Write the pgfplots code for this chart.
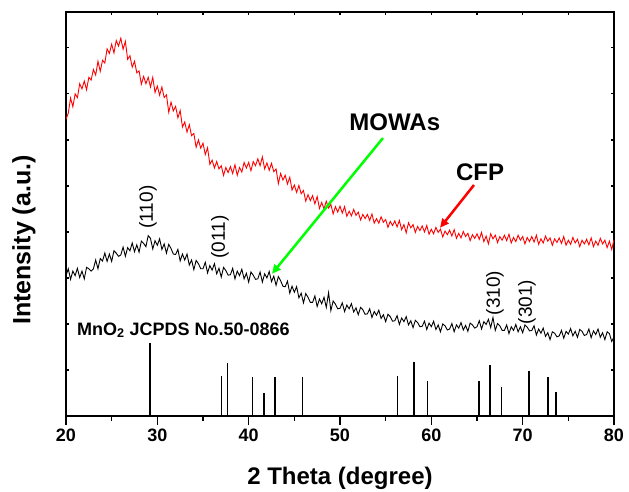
\documentclass[border=0pt]{standalone}
\usepackage{fontspec}
\setmainfont{Liberation Sans}
\usepackage{pgfplots}
\pgfplotsset{compat=1.18}
\usetikzlibrary{arrows.meta}

\newcommand{\fs}[1]{\fontsize{#1bp}{#1bp}\selectfont}

\begin{document}
\begin{tikzpicture}
\useasboundingbox (0,0) rectangle (629bp,492bp);

% top and side ticks (small, inside)
\begin{axis}[
  at={(66bp,76bp)}, anchor=south west,
  width=548bp, height=404bp, scale only axis,
  xmin=20, xmax=80, ymin=0, ymax=8.78,
  xtick={20,25,...,80}, ytick={1,...,8},
  xtick pos=right, ytick pos=both,
  tick align=inside, major tick length=3bp,
  xticklabels={}, yticklabels={}, axis line style={line width=1.8bp},
  tick style={line width=1.2bp, black},
]
\end{axis}

\begin{axis}[
  at={(66bp,76bp)}, anchor=south west,
  width=548bp, height=404bp, scale only axis,
  xmin=20, xmax=80, ymin=0, ymax=8.78,
  xtick={20,30,...,80}, minor xtick={25,35,...,75},
  xticklabels={20,30,40,50,60,70,80},
  ytick=\empty,
  xtick pos=left, tick align=outside,
  major tick length=9bp, minor tick length=5bp,
  tick style={line width=1.2bp, black},
  axis line style={line width=1.8bp},
  tick label style={font=\fs{18}\bfseries},
  clip=false,
]
% CFP
\addplot[red, line width=0.9bp] coordinates {
(20,6.45)(20.25,6.58)(20.5,6.91)(20.75,6.72)(21,7.00)(21.25,6.92)(21.5,7.22)(21.75,7.11)(22,7.28)(22.25,7.09)(22.5,7.36)(22.75,7.30)
(23,7.53)(23.25,7.41)(23.5,7.71)(23.75,7.49)(24,7.73)(24.25,7.67)(24.5,7.98)(24.75,7.88)(25,8.08)(25.25,7.89)(25.5,8.16)(25.75,8.04)
(26,8.21)(26.25,7.97)(26.5,8.14)(26.75,7.75)(27,7.83)(27.25,7.58)(27.5,7.71)(27.75,7.46)(28,7.50)(28.25,7.21)(28.5,7.38)(28.75,7.22)
(29,7.36)(29.25,7.15)(29.5,7.36)(29.75,7.03)(30,7.17)(30.25,6.97)(30.5,7.15)(30.75,6.92)(31,6.98)(31.25,6.60)(31.5,6.82)(31.75,6.63)
(32,6.73)(32.25,6.48)(32.5,6.64)(32.75,6.28)(33,6.39)(33.25,6.17)(33.5,6.33)(33.75,6.09)(34,6.14)(34.25,5.84)(34.5,6.00)(34.75,5.82)
(35,5.93)(35.25,5.68)(35.5,5.83)(35.75,5.47)(36,5.56)(36.25,5.39)(36.5,5.53)(36.75,5.37)(37,5.44)(37.25,5.23)(37.5,5.40)(37.75,5.29)
(38,5.42)(38.25,5.27)(38.5,5.46)(38.75,5.23)(39,5.40)(39.25,5.30)(39.5,5.51)(39.75,5.39)(40,5.51)(40.25,5.33)(40.5,5.53)(40.75,5.44)
(41,5.59)(41.25,5.44)(41.5,5.63)(41.75,5.37)(42,5.50)(42.25,5.34)(42.5,5.49)(42.75,5.31)(43,5.37)(43.25,5.05)(43.5,5.27)(43.75,5.13)
(44,5.23)(44.25,5.04)(44.5,5.19)(44.75,4.91)(45,5.02)(45.25,4.86)(45.5,5.01)(45.75,4.83)(46,4.90)(46.25,4.67)(46.5,4.81)(46.75,4.68)
(47,4.79)(47.25,4.61)(47.5,4.77)(47.75,4.51)(48,4.64)(48.25,4.50)(48.5,4.67)(48.75,4.52)(49,4.60)(49.25,4.39)(49.5,4.55)(49.75,4.43)
(50,4.56)(50.25,4.41)(50.5,4.55)(50.75,4.34)(51,4.45)(51.25,4.35)(51.5,4.49)(51.75,4.36)(52,4.43)(52.25,4.26)(52.5,4.38)(52.75,4.29)
(53,4.38)(53.25,4.25)(53.5,4.39)(53.75,4.19)(54,4.29)(54.25,4.19)(54.5,4.33)(54.75,4.21)(55,4.27)(55.25,4.10)(55.5,4.23)(55.75,4.14)
(56,4.24)(56.25,4.11)(56.5,4.25)(56.75,4.05)(57,4.16)(57.25,3.98)(57.5,4.20)(57.75,4.09)(58,4.16)(58.25,3.99)(58.5,4.12)(58.75,4.03)
(59,4.13)(59.25,4.00)(59.5,4.14)(59.75,3.95)(60,4.06)(60.25,3.96)(60.5,4.10)(60.75,3.99)(61,4.06)(61.25,3.89)(61.5,4.02)(61.75,3.94)
(62,4.04)(62.25,3.91)(62.5,4.05)(62.75,3.86)(63,3.97)(63.25,3.87)(63.5,4.01)(63.75,3.90)(64,3.97)(64.25,3.81)(64.5,3.94)(64.75,3.86)
(65,3.96)(65.25,3.84)(65.5,3.99)(65.75,3.79)(66,3.91)(66.25,3.74)(66.5,3.96)(66.75,3.85)(67,3.93)(67.25,3.77)(67.5,3.90)(67.75,3.82)
(68,3.93)(68.25,3.81)(68.5,3.95)(68.75,3.76)(69,3.88)(69.25,3.79)(69.5,3.93)(69.75,3.82)(70,3.90)(70.25,3.74)(70.5,3.88)(70.75,3.79)
(71,3.90)(71.25,3.78)(71.5,3.93)(71.75,3.73)(72,3.85)(72.25,3.76)(72.5,3.91)(72.75,3.80)(73,3.87)(73.25,3.71)(73.5,3.85)(73.75,3.77)
(74,3.87)(74.25,3.75)(74.5,3.90)(74.75,3.71)(75,3.82)(75.25,3.73)(75.5,3.88)(75.75,3.76)(76,3.84)(76.25,3.68)(76.5,3.82)(76.75,3.74)
(77,3.84)(77.25,3.72)(77.5,3.87)(77.75,3.68)(78,3.80)(78.25,3.71)(78.5,3.86)(78.75,3.74)(79,3.82)(79.25,3.66)(79.5,3.80)(79.75,3.62)
(80,3.83)};
% MOWAs
\addplot[black, line width=0.9bp] coordinates {
(20,3.05)(20.25,3.20)(20.5,2.97)(20.75,3.15)(21,3.05)(21.25,3.21)(21.5,3.01)(21.75,3.15)(22,2.98)(22.25,3.23)(22.5,3.20)(22.75,3.15)
(23,3.20)(23.25,3.39)(23.5,3.20)(23.75,3.42)(24,3.37)(24.25,3.54)(24.5,3.36)(24.75,3.52)(25,3.36)(25.25,3.59)(25.5,3.54)(25.75,3.47)
(26,3.50)(26.25,3.67)(26.5,3.47)(26.75,3.66)(27,3.59)(27.25,3.76)(27.5,3.57)(27.75,3.72)(28,3.56)(28.25,3.80)(28.5,3.75)(28.75,3.68)
(29,3.92)(29.25,3.86)(29.5,3.63)(29.75,3.81)(30,3.71)(30.25,3.85)(30.5,3.62)(30.75,3.74)(31,3.54)(31.25,3.73)(31.5,3.64)(31.75,3.52)
(32,3.51)(32.25,3.62)(32.5,3.37)(32.75,3.52)(33,3.39)(33.25,3.52)(33.5,3.28)(33.75,3.39)(34,3.18)(34.25,3.38)(34.5,3.31)(34.75,3.20)
(35,3.20)(35.25,3.34)(35.5,3.11)(35.75,3.27)(36,3.17)(36.25,3.31)(36.5,3.09)(36.75,3.21)(37,3.02)(37.25,3.23)(37.5,3.16)(37.75,3.06)
(38,3.07)(38.25,3.21)(38.5,2.98)(38.75,3.15)(39,3.05)(39.25,3.19)(39.5,2.98)(39.75,3.10)(40,2.91)(40.25,3.13)(40.5,3.06)(40.75,2.97)
(41,2.98)(41.25,3.13)(41.5,2.91)(41.75,3.09)(42,3.00)(42.25,3.14)(42.5,2.92)(42.75,3.04)(43,2.84)(43.25,3.03)(43.5,2.94)(43.75,2.82)
(44,2.81)(44.25,2.93)(44.5,2.67)(44.75,2.82)(45,2.69)(45.25,2.81)(45.5,2.57)(45.75,2.67)(46,2.46)(46.25,2.66)(46.5,2.58)(46.75,2.47)
(47,2.47)(47.25,2.61)(47.5,2.38)(47.75,2.54)(48,2.44)(48.25,2.58)(48.5,2.36)(48.75,2.68)(49,2.29)(49.25,2.50)(49.5,2.43)(49.75,2.33)
(50,2.34)(50.25,2.46)(50.5,2.27)(50.75,2.41)(51,2.33)(51.25,2.44)(51.5,2.26)(51.75,2.35)(52,2.20)(52.25,2.36)(52.5,2.31)(52.75,2.21)
(53,2.22)(53.25,2.33)(53.5,2.14)(53.75,2.27)(54,2.19)(54.25,2.30)(54.5,2.12)(54.75,2.20)(55,2.05)(55.25,2.21)(55.5,2.16)(55.75,2.06)
(56,2.07)(56.25,2.18)(56.5,1.99)(56.75,2.13)(57,2.05)(57.25,2.16)(57.5,1.98)(57.75,2.07)(58,1.92)(58.25,2.08)(58.5,2.03)(58.75,1.94)
(59,1.95)(59.25,2.06)(59.5,1.88)(59.75,2.02)(60,1.94)(60.25,2.06)(60.5,1.88)(60.75,1.98)(61,1.83)(61.25,2.00)(61.5,1.96)(61.75,1.87)
(62,1.89)(62.25,2.01)(62.5,1.83)(62.75,1.98)(63,1.91)(63.25,2.03)(63.5,1.87)(63.75,1.97)(64,1.84)(64.25,2.02)(64.5,1.98)(64.75,1.91)
(65,1.94)(65.25,2.07)(65.5,1.89)(65.75,2.05)(66,1.99)(66.25,2.10)(66.5,1.92)(66.75,2.14)(67,1.86)(67.25,2.01)(67.5,1.96)(67.75,1.86)
(68,1.86)(68.25,1.98)(68.5,1.79)(68.75,1.94)(69,1.86)(69.25,1.99)(69.5,1.83)(69.75,1.94)(70,1.81)(70.25,1.98)(70.5,1.93)(70.75,1.85)
(71,1.86)(71.25,1.96)(71.5,1.76)(71.75,1.89)(72,1.80)(72.25,1.91)(72.5,1.73)(72.75,1.81)(73,1.66)(73.25,1.83)(73.5,1.80)(73.75,1.72)
(74,1.74)(74.25,1.86)(74.5,1.69)(74.75,1.84)(75,1.78)(75.25,1.90)(75.5,1.74)(75.75,1.84)(76,1.71)(76.25,1.88)(76.5,1.84)(76.75,1.75)
(77,1.77)(77.25,1.89)(77.5,1.70)(77.75,1.85)(78,1.77)(78.25,1.89)(78.5,1.71)(78.75,1.81)(79,1.66)(79.25,1.83)(79.5,1.79)(79.75,1.62)
(80,1.72)};
% JCPDS 50-0866 reference lines
\addplot[ycomb, black, line width=1.5bp, mark=none] coordinates {
(29.2,1.59)(37.0,0.87)(37.7,1.15)(40.4,0.85)(41.7,0.50)(42.9,0.85)(45.9,0.85)
(56.3,0.87)(58.1,1.17)(59.6,0.75)(65.2,0.76)(66.4,1.10)(67.7,0.64)(70.7,0.98)
(72.8,0.85)(73.65,0.52)};

% annotations
\node[font=\fs{18}\bfseries, anchor=base west, inner sep=0] at (axis cs:21.2,1.76) {MnO\textsubscript{2} JCPDS No.50-0866};
\node[font=\fs{19}, rotate=90] at (axis cs:28.98,4.54) {(110)};
\node[font=\fs{19}, rotate=90] at (axis cs:36.86,3.89) {(011)};
\node[font=\fs{19}, rotate=90] at (axis cs:66.97,2.67) {(310)};
\node[font=\fs{19}, rotate=90] at (axis cs:70.48,2.48) {(301)};
\node[font=\fs{24}\bfseries] at (axis cs:56.0,6.39) {MOWAs};
\node[font=\fs{24}\bfseries] at (axis cs:65.33,5.30) {CFP};
\draw[green, line width=2.5bp, -{Triangle[length=9bp,width=8bp]}] (axis cs:54.7,6.04) -- (axis cs:42.55,3.09);
\draw[red, line width=2.5bp, -{Triangle[length=9bp,width=8bp]}] (axis cs:64.67,5.02) -- (axis cs:60.95,4.09);
\end{axis}

\node[font=\fs{24}\bfseries, anchor=base] at (340bp,8bp) {2 Theta (degree)};
\node[font=\fs{25}\bfseries, rotate=90] at (24bp,252bp) {Intensity (a.u.)};
\end{tikzpicture}
\end{document}
